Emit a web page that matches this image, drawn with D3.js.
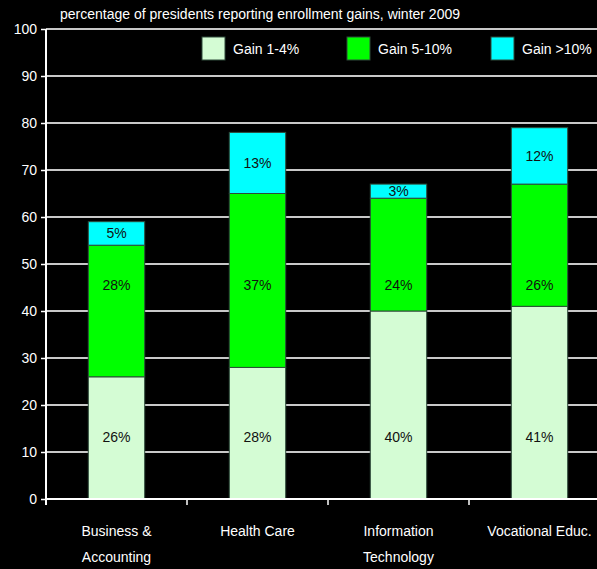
<!DOCTYPE html>
<meta charset="utf-8">
<style>
    body { margin: 0; background: #000; }
    text { font-family: "Liberation Sans", Arial, sans-serif; }
</style>
<svg width="597" height="569"></svg>
<script src="https://d3js.org/d3.v7.min.js"></script>
<script>

    var categories = [["Business &", "Accounting"], ["Health Care"], ["Information", "Technology"], ["Vocational Educ."]];
    var seriesNames = ["Gain 1-4%", "Gain 5-10%", "Gain >10%"];
    var gain1to4 = [26, 28, 40, 41];
    var gain5to10 = [28, 37, 24, 26];
    var gainOver10 = [5, 13, 3, 12];
    var yTicks = [0, 10, 20, 30, 40, 50, 60, 70, 80, 90, 100];
    var colors = ["#d4fcd4", "#00ff00", "#00ffff"];
    // the lower two series put their labels on one common height
    var labelLevel = [13.2, 45.5, null];

    var svg = d3.select("svg");
    svg.append("rect").attr("width", 597).attr("height", 569).attr("fill", "#000");

    var keys = categories.map(function(c) { return c.join(" "); });
    var rows = keys.map(function(k, i) {
        return {key: k, s0: gain1to4[i], s1: gain5to10[i], s2: gainOver10[i]};
    });

    var x = d3.scaleBand().domain(keys).range([46, 610]).paddingInner(0.6).paddingOuter(0.3);
    var y = d3.scaleLinear().domain([0, 100]).range([499, 29]);

    // gridlines
    svg.append("g").selectAll("line")
        .data(yTicks.filter(function(d) { return d > 0; }))
        .enter().append("line")
        .attr("x1", 46).attr("x2", 597)
        .attr("y1", function(d) { return y(d); })
        .attr("y2", function(d) { return y(d); })
        .attr("stroke", "#c8c8c8")
        .attr("stroke-width", 2);

    // y axis
    var yAxis = d3.axisLeft(y).tickValues(yTicks).tickSize(5).tickPadding(4);
    var gy = svg.append("g").attr("transform", "translate(46,0)").call(yAxis);
    gy.select(".domain").attr("stroke", "#fff").attr("stroke-width", 2).attr("d", "M0,29V505");
    gy.selectAll(".tick line").attr("stroke", "#fff").attr("stroke-width", 1.5);
    gy.selectAll(".tick text").attr("fill", "#fff").style("font-size", "14px")
        .style("font-family", "'Liberation Sans', Arial, sans-serif");

    // stacked bars
    var stack = d3.stack().keys(["s0", "s1", "s2"]);
    var series = stack(rows);

    var layers = svg.append("g").selectAll("g")
        .data(series)
        .enter().append("g")
        .attr("fill", function(d, i) { return colors[i]; });

    layers.selectAll("rect")
        .data(function(d) { return d; })
        .enter().append("rect")
        .attr("x", function(d) { return x(d.data.key); })
        .attr("width", x.bandwidth())
        .attr("y", function(d) { return y(d[1]); })
        .attr("height", function(d) { return y(d[0]) - y(d[1]); })
        .attr("stroke", "#2e4a3a")
        .attr("stroke-width", 1);

    layers.each(function(s, si) {
        d3.select(this).selectAll("text")
            .data(s)
            .enter().append("text")
            .attr("x", function(d) { return x(d.data.key) + x.bandwidth() / 2; })
            .attr("y", function(d) {
                var v = labelLevel[si] != null ? labelLevel[si] : (d[0] + d[1]) / 2;
                return y(v) + 5;
            })
            .attr("text-anchor", "middle")
            .attr("fill", "#111")
            .style("font-size", "14px")
            .text(function(d) { return (d[1] - d[0]) + "%"; });
    });

    // x axis
    svg.append("line")
        .attr("x1", 46).attr("x2", 597).attr("y1", y(0)).attr("y2", y(0))
        .attr("stroke", "#fff").attr("stroke-width", 2);
    var step = x.step();
    svg.append("g").selectAll("line")
        .data(keys)
        .enter().append("line")
        .attr("x1", function(d, i) { return 46 + i * step; })
        .attr("x2", function(d, i) { return 46 + i * step; })
        .attr("y1", y(0)).attr("y2", y(0) + 6)
        .attr("stroke", "#fff").attr("stroke-width", 1.5);

    var labels = svg.append("g").selectAll("text")
        .data(categories)
        .enter().append("text")
        .attr("x", function(d, i) { return x(keys[i]) + x.bandwidth() / 2; })
        .attr("y", 536)
        .attr("text-anchor", "middle")
        .attr("fill", "#fff")
        .style("font-size", "14px");
    labels.selectAll("tspan")
        .data(function(d) { return d; })
        .enter().append("tspan")
        .attr("x", function() { return d3.select(this.parentNode).attr("x"); })
        .attr("dy", function(d, i) { return i ? 26 : 0; })
        .text(function(d) { return d; });

    // title
    svg.append("text")
        .attr("x", 60).attr("y", 19)
        .attr("fill", "#fff")
        .style("font-size", "14px")
        .text("percentage of presidents reporting enrollment gains, winter 2009");

    // legend
    var legendX = [202, 347, 491];
    var legend = svg.append("g").selectAll("g")
        .data(seriesNames)
        .enter().append("g")
        .attr("transform", function(d, i) { return "translate(" + legendX[i] + ",37)"; });
    legend.append("rect")
        .attr("width", 23).attr("height", 23)
        .attr("fill", function(d, i) { return colors[i]; })
        .attr("stroke", "#2e4a3a");
    legend.append("text")
        .attr("x", 31).attr("y", 17)
        .attr("fill", "#fff")
        .style("font-size", "14px")
        .text(function(d) { return d; });

</script>
